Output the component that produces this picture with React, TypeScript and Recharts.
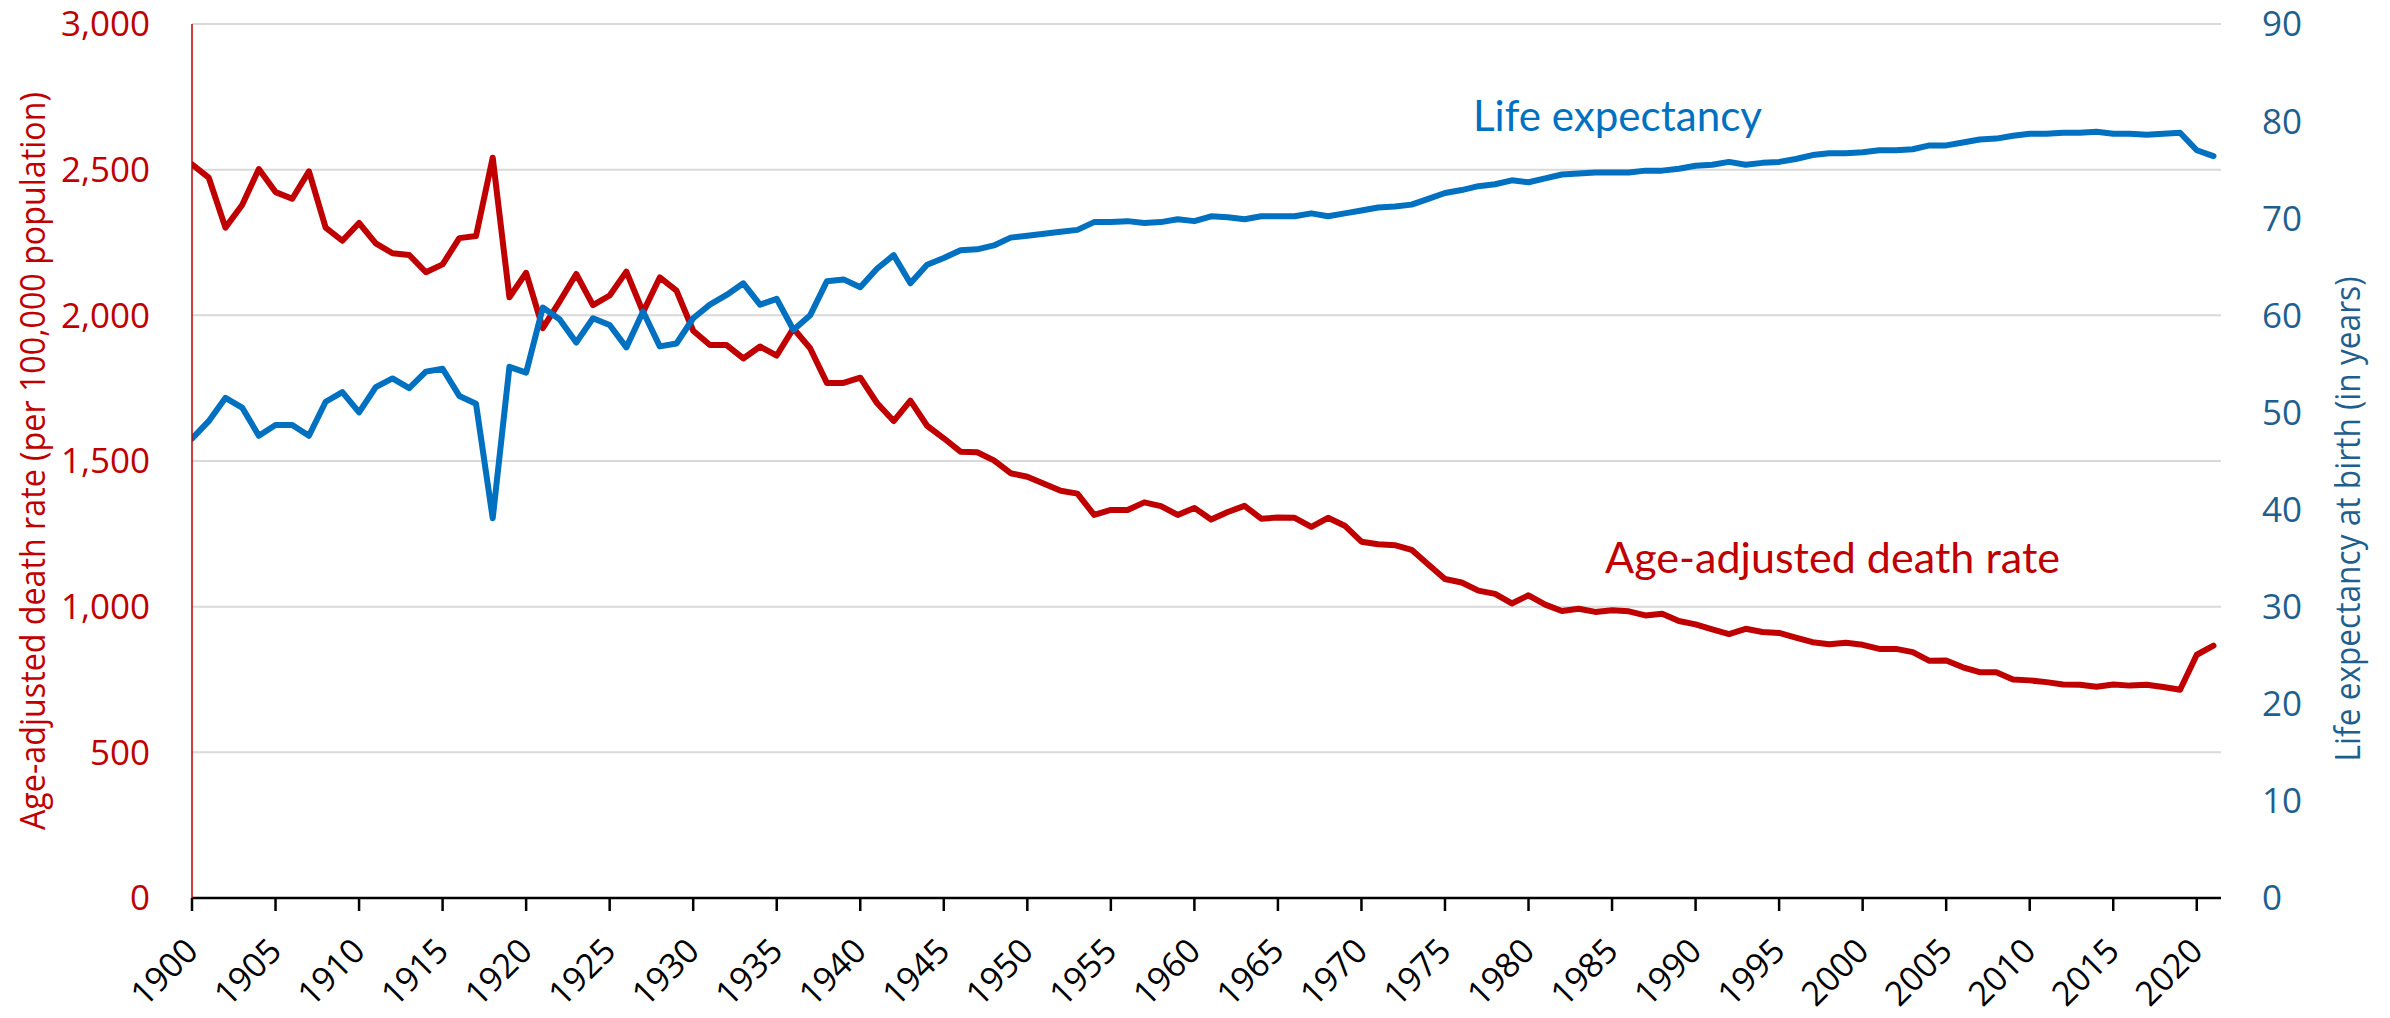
import React from "react";
import { LineChart, Line, XAxis, YAxis, CartesianGrid } from "recharts";

const years: number[] = [];
for (let y = 1900; y <= 2021; y++) years.push(y);

const deathRate: number[] = [
  2518, 2473, 2301, 2379, 2502, 2423, 2400, 2494, 2301, 2256,
  2317, 2247, 2213, 2207, 2148, 2175, 2265, 2272, 2541, 2062,
  2146, 1956, 2047, 2142, 2035, 2068, 2150, 2011, 2130, 2085,
  1947, 1898, 1898, 1852, 1893, 1862, 1955, 1887, 1768, 1768,
  1786, 1699, 1637, 1707, 1621, 1578, 1532, 1530, 1502, 1458,
  1446, 1422, 1398, 1388, 1315, 1332, 1332, 1358, 1345, 1315,
  1339, 1299, 1325, 1346, 1302, 1306, 1305, 1274, 1305, 1278,
  1223, 1214, 1211, 1195, 1145, 1095, 1083, 1055, 1044, 1011,
  1039, 1007, 985, 993, 982, 988, 984, 970, 976, 951,
  939, 922, 906, 924, 913, 910, 894, 878, 871, 876,
  869, 855, 855, 844, 814, 815, 792, 775, 775, 750,
  747, 741, 733, 732, 725, 733, 729, 732, 724, 715,
  835, 866,
];

const lifeExpectancy: number[] = [
  47.3, 49.1, 51.5, 50.5, 47.6, 48.7, 48.7, 47.6, 51.1, 52.1,
  50.0, 52.6, 53.5, 52.5, 54.2, 54.5, 51.7, 50.9, 39.1, 54.7,
  54.1, 60.8, 59.6, 57.2, 59.7, 59.0, 56.7, 60.4, 56.8, 57.1,
  59.7, 61.1, 62.1, 63.3, 61.1, 61.7, 58.5, 60.0, 63.5, 63.7,
  62.9, 64.8, 66.2, 63.3, 65.2, 65.9, 66.7, 66.8, 67.2, 68.0,
  68.2, 68.4, 68.6, 68.8, 69.6, 69.6, 69.7, 69.5, 69.6, 69.9,
  69.7, 70.2, 70.1, 69.9, 70.2, 70.2, 70.2, 70.5, 70.2, 70.5,
  70.8, 71.1, 71.2, 71.4, 72.0, 72.6, 72.9, 73.3, 73.5, 73.9,
  73.7, 74.1, 74.5, 74.6, 74.7, 74.7, 74.7, 74.9, 74.9, 75.1,
  75.4, 75.5, 75.8, 75.5, 75.7, 75.8, 76.1, 76.5, 76.7, 76.7,
  76.8, 77.0, 77.0, 77.1, 77.5, 77.5, 77.8, 78.1, 78.2, 78.5,
  78.7, 78.7, 78.8, 78.8, 78.9, 78.7, 78.7, 78.6, 78.7, 78.8,
  77.0, 76.4,
];

const xTicks: number[] = [1900, 1905, 1910, 1915, 1920, 1925, 1930, 1935, 1940, 1945, 1950, 1955, 1960, 1965, 1970, 1975, 1980, 1985, 1990, 1995, 2000, 2005, 2010, 2015, 2020];
const leftTicks: number[] = [0, 500, 1000, 1500, 2000, 2500, 3000];
const rightTicks: number[] = [0, 10, 20, 30, 40, 50, 60, 70, 80, 90];

const leftTitle = "Age-adjusted death rate (per 100,000 population)";
const rightTitle = "Life expectancy at birth (in years)";
const lifeLabel = "Life expectancy";
const rateLabel = "Age-adjusted death rate";

const data = years.map((year, i) => ({
  year,
  rate: deathRate[i],
  life: lifeExpectancy[i],
}));

const RED = "#C00000";
const BLUE = "#0070C0";
const STEEL = "#1F5F8F";
const FONT = "'Open Sans', 'Noto Sans', sans-serif";

const XTick = (props: any) => {
  const { x, y, payload } = props;
  const tx = x + 8;
  const ty = y + 42;
  return (
    <text
      x={tx}
      y={ty}
      transform={`rotate(-45, ${tx}, ${ty})`}
      textAnchor="end"
      fontSize={34}
      fontFamily={FONT}
      fill="#000"
    >
      {payload.value}
    </text>
  );
};

const fmt = (v: number) => v.toLocaleString("en-US");

export default function App() {
  return (
    <div style={{ position: "absolute", left: 0, top: 0, width: 2390, height: 1018, background: "#fff", overflow: "hidden" }}>
      <LineChart
        width={2390}
        height={1018}
        data={data}
        margin={{ top: 24, right: 0, bottom: 0, left: 0 }}
      >
        <CartesianGrid
          yAxisId="left"
          vertical={false}
          stroke="#D9D9D9"
          strokeWidth={2}
        />
        <XAxis
          dataKey="year"
          type="number"
          domain={[1900, 2021.45]}
          ticks={xTicks}
          allowDataOverflow
          height={120}
          interval={0}
          axisLine={{ stroke: "#000", strokeWidth: 2.5 }}
          tickLine={{ stroke: "#000", strokeWidth: 2.5 }}
          tickSize={13}
          tickMargin={0}
          tick={<XTick />}
        />
        <YAxis
          yAxisId="left"
          orientation="left"
          width={192}
          domain={[0, 3000]}
          ticks={leftTicks}
          interval={0}
          tickFormatter={fmt}
          axisLine={{ stroke: RED, strokeWidth: 1.5 }}
          tickLine={false}
          tickSize={0}
          tickMargin={42}
          tick={{ fill: RED, fontSize: 35, fontFamily: FONT }}
        />
        <YAxis
          yAxisId="right"
          orientation="right"
          width={169}
          domain={[0, 90]}
          ticks={rightTicks}
          interval={0}
          axisLine={false}
          tickLine={false}
          tickSize={0}
          tickMargin={41}
          tick={{ fill: STEEL, fontSize: 35, fontFamily: FONT, textAnchor: "start" }}
        />
        <Line
          yAxisId="left"
          type="linear"
          dataKey="rate"
          stroke={RED}
          strokeWidth={6}
          dot={false}
          activeDot={false}
          strokeLinejoin="round"
          strokeLinecap="round"
          isAnimationActive={false}
        />
        <Line
          yAxisId="right"
          type="linear"
          dataKey="life"
          stroke={BLUE}
          strokeWidth={6}
          dot={false}
          activeDot={false}
          strokeLinejoin="round"
          strokeLinecap="round"
          isAnimationActive={false}
        />
      </LineChart>
      <svg
        width={2390}
        height={1018}
        style={{ position: "absolute", left: 0, top: 0, pointerEvents: "none" }}
      >
        <text
          x={45}
          y={461}
          transform="rotate(-90, 45, 461)"
          textAnchor="middle"
          fontSize={34}
          fontFamily={FONT}
          fill={RED}
          textLength={738}
          lengthAdjust="spacingAndGlyphs"
        >
          {leftTitle}
        </text>
        <text
          x={2360}
          y={519}
          transform="rotate(-90, 2360, 519)"
          textAnchor="middle"
          fontSize={34}
          fontFamily={FONT}
          fill={STEEL}
          textLength={485}
          lengthAdjust="spacingAndGlyphs"
        >
          {rightTitle}
        </text>
        <text
          x={1473}
          y={131}
          fontSize={43}
          fontFamily="Lato, 'Open Sans', sans-serif"
          fill={BLUE}
          textLength={289}
          lengthAdjust="spacingAndGlyphs"
        >
          {lifeLabel}
        </text>
        <text
          x={1605}
          y={573}
          fontSize={43}
          fontFamily="Lato, 'Open Sans', sans-serif"
          fill={RED}
          textLength={455}
          lengthAdjust="spacingAndGlyphs"
        >
          {rateLabel}
        </text>
      </svg>
    </div>
  );
}
